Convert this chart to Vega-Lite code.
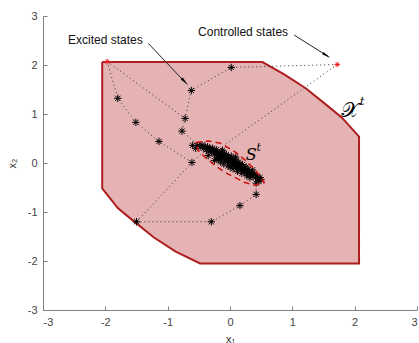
{
  "$schema": "https://vega.github.io/schema/vega-lite/v6.json",
  "width": 374,
  "height": 294,
  "autosize": {"type": "none"},
  "padding": {"left": 43, "top": 16, "right": 2, "bottom": 33},
  "background": "white",
  "config": {
    "view": {"stroke": null},
    "axis": {
      "grid": false,
      "domainColor": "#7f7f7f",
      "tickColor": "#7f7f7f",
      "labelColor": "#444444",
      "labelFont": "Liberation Sans",
      "labelFontSize": 11,
      "titleFont": "Liberation Sans",
      "titleFontWeight": "normal",
      "titleColor": "#333333",
      "titleFontSize": 11,
      "tickSize": -4,
      "labelPadding": 10,
      "labelExpr": "replace(datum.label, '−', '-')"
    }
  },
  "datasets": {
    "region": [
      {"ord": 1, "x": -2.05, "y": 2.06},
      {"ord": 2, "x": 0.52, "y": 2.06},
      {"ord": 3, "x": 0.87, "y": 1.81},
      {"ord": 4, "x": 1.22, "y": 1.52},
      {"ord": 5, "x": 1.59, "y": 1.14},
      {"ord": 6, "x": 1.80, "y": 0.92},
      {"ord": 7, "x": 2.07, "y": 0.54},
      {"ord": 8, "x": 2.07, "y": -2.05},
      {"ord": 9, "x": -0.48, "y": -2.05},
      {"ord": 10, "x": -0.87, "y": -1.81},
      {"ord": 11, "x": -1.22, "y": -1.52},
      {"ord": 12, "x": -1.59, "y": -1.14},
      {"ord": 13, "x": -1.80, "y": -0.92},
      {"ord": 14, "x": -2.05, "y": -0.52},
      {"ord": 15, "x": -2.05, "y": 2.06}
    ],
    "ellipse": [
      {"ord": 1, "x": -0.55, "y": 0.42},
      {"ord": 2, "x": -0.35, "y": 0.45},
      {"ord": 3, "x": -0.14, "y": 0.40},
      {"ord": 4, "x": 0.10, "y": 0.21},
      {"ord": 5, "x": 0.28, "y": 0.02},
      {"ord": 6, "x": 0.42, "y": -0.17},
      {"ord": 7, "x": 0.55, "y": -0.40},
      {"ord": 8, "x": 0.40, "y": -0.45},
      {"ord": 9, "x": 0.24, "y": -0.40},
      {"ord": 10, "x": 0.07, "y": -0.29},
      {"ord": 11, "x": -0.08, "y": -0.19},
      {"ord": 12, "x": -0.23, "y": -0.06},
      {"ord": 13, "x": -0.36, "y": 0.07},
      {"ord": 14, "x": -0.51, "y": 0.25},
      {"ord": 15, "x": -0.55, "y": 0.42}
    ],
    "traj": [
      {"path": "p1", "ord": 1, "x": -1.97, "y": 2.07},
      {"path": "p1", "ord": 2, "x": -1.80, "y": 1.32},
      {"path": "p1", "ord": 3, "x": -1.51, "y": 0.83},
      {"path": "p1", "ord": 4, "x": -1.14, "y": 0.44},
      {"path": "p1", "ord": 5, "x": -0.61, "y": 0.01},
      {"path": "p1", "ord": 6, "x": -0.40, "y": 0.25},
      {"path": "p2", "ord": 1, "x": -1.97, "y": 2.07},
      {"path": "p2", "ord": 2, "x": -0.72, "y": 0.91},
      {"path": "p2", "ord": 3, "x": -0.77, "y": 0.65},
      {"path": "p2", "ord": 4, "x": -0.50, "y": 0.35},
      {"path": "p3", "ord": 1, "x": 1.72, "y": 2.01},
      {"path": "p3", "ord": 2, "x": 0.02, "y": 1.95},
      {"path": "p3", "ord": 3, "x": -0.62, "y": 1.48},
      {"path": "p3", "ord": 4, "x": -0.72, "y": 0.91},
      {"path": "p4", "ord": 1, "x": 1.72, "y": 2.01},
      {"path": "p4", "ord": 2, "x": -0.10, "y": 0.36},
      {"path": "p5", "ord": 1, "x": -1.50, "y": -1.20},
      {"path": "p5", "ord": 2, "x": -0.30, "y": -1.20},
      {"path": "p5", "ord": 3, "x": 0.16, "y": -0.87},
      {"path": "p5", "ord": 4, "x": 0.42, "y": -0.64},
      {"path": "p5", "ord": 5, "x": 0.42, "y": -0.41},
      {"path": "p5", "ord": 6, "x": 0.48, "y": -0.30},
      {"path": "p6", "ord": 1, "x": -1.50, "y": -1.20},
      {"path": "p6", "ord": 2, "x": -0.61, "y": 0.01}
    ],
    "stars": [
      {"x": -1.80, "y": 1.32}, {"x": -1.51, "y": 0.83}, {"x": -1.14, "y": 0.44},
      {"x": -0.61, "y": 0.01}, {"x": -0.72, "y": 0.91}, {"x": -0.77, "y": 0.65},
      {"x": -0.62, "y": 1.48}, {"x": 0.02, "y": 1.95}, {"x": -1.50, "y": -1.20},
      {"x": -0.30, "y": -1.20}, {"x": 0.16, "y": -0.87}, {"x": 0.42, "y": -0.64},
      {"x": 0.42, "y": -0.41},
      {"x": -0.52, "y": 0.36}, {"x": -0.48, "y": 0.33}, {"x": -0.45, "y": 0.37},
      {"x": -0.42, "y": 0.30}, {"x": -0.40, "y": 0.34}, {"x": -0.38, "y": 0.27},
      {"x": -0.36, "y": 0.33}, {"x": -0.34, "y": 0.24}, {"x": -0.33, "y": 0.30},
      {"x": -0.31, "y": 0.28}, {"x": -0.29, "y": 0.22}, {"x": -0.28, "y": 0.30},
      {"x": -0.26, "y": 0.25}, {"x": -0.25, "y": 0.18}, {"x": -0.23, "y": 0.22},
      {"x": -0.22, "y": 0.27}, {"x": -0.20, "y": 0.16}, {"x": -0.19, "y": 0.21},
      {"x": -0.17, "y": 0.13}, {"x": -0.16, "y": 0.19}, {"x": -0.14, "y": 0.23},
      {"x": -0.13, "y": 0.10}, {"x": -0.12, "y": 0.16}, {"x": -0.10, "y": 0.12},
      {"x": -0.09, "y": 0.19}, {"x": -0.08, "y": 0.06}, {"x": -0.07, "y": 0.14},
      {"x": -0.05, "y": 0.09}, {"x": -0.04, "y": 0.03}, {"x": -0.03, "y": 0.12},
      {"x": -0.02, "y": 0.07}, {"x": 0.00, "y": 0.02}, {"x": 0.01, "y": 0.09},
      {"x": 0.02, "y": -0.02}, {"x": 0.03, "y": 0.05}, {"x": 0.05, "y": 0.00},
      {"x": 0.06, "y": -0.05}, {"x": 0.07, "y": 0.03}, {"x": 0.09, "y": -0.03},
      {"x": 0.10, "y": -0.08}, {"x": 0.11, "y": 0.00}, {"x": 0.13, "y": -0.06},
      {"x": 0.14, "y": -0.11}, {"x": 0.15, "y": -0.03}, {"x": 0.17, "y": -0.09},
      {"x": 0.18, "y": -0.14}, {"x": 0.20, "y": -0.08}, {"x": 0.21, "y": -0.13},
      {"x": 0.23, "y": -0.18}, {"x": 0.24, "y": -0.11}, {"x": 0.26, "y": -0.16},
      {"x": 0.28, "y": -0.21}, {"x": 0.29, "y": -0.14}, {"x": 0.31, "y": -0.19},
      {"x": 0.33, "y": -0.24}, {"x": 0.35, "y": -0.20}, {"x": 0.37, "y": -0.27},
      {"x": 0.39, "y": -0.23}, {"x": 0.41, "y": -0.29}, {"x": 0.43, "y": -0.26},
      {"x": 0.45, "y": -0.32}, {"x": 0.48, "y": -0.30}, {"x": 0.50, "y": -0.34},
      {"x": 0.46, "y": -0.37}, {"x": -0.60, "y": 0.36}, {"x": -0.55, "y": 0.30},
      {"x": -0.25, "y": 0.05}, {"x": -0.15, "y": 0.02}, {"x": 0.00, "y": -0.08},
      {"x": -0.35, "y": 0.15},
      {"x": -0.06, "y": 0.17}, {"x": 0.02, "y": 0.14}, {"x": 0.08, "y": 0.08},
      {"x": 0.14, "y": 0.02}, {"x": 0.20, "y": -0.03}, {"x": 0.26, "y": -0.08},
      {"x": -0.10, "y": -0.02}, {"x": -0.03, "y": -0.06}, {"x": 0.05, "y": -0.12},
      {"x": 0.12, "y": -0.17}, {"x": 0.19, "y": -0.21}, {"x": 0.27, "y": -0.26},
      {"x": -0.18, "y": 0.07}, {"x": -0.21, "y": 0.12}, {"x": 0.32, "y": -0.30},
      {"x": 0.36, "y": -0.14}, {"x": 0.09, "y": 0.12}, {"x": -0.12, "y": 0.26}
    ],
    "reds": [
      {"x": -1.97, "y": 2.07},
      {"x": 1.72, "y": 2.01}
    ],
    "labels": [
      {"x": -2.00, "y": 2.52, "text": "Excited states"},
      {"x": 0.21, "y": 2.67, "text": "Controlled states"}
    ],
    "arrow1": [
      {"ord": 1, "x": -1.31, "y": 2.44},
      {"ord": 2, "x": -0.70, "y": 1.62}
    ],
    "arrow2": [
      {"ord": 1, "x": 1.03, "y": 2.61},
      {"ord": 2, "x": 1.58, "y": 2.17}
    ],
    "head1": [{"x": -0.74, "y": 1.68}],
    "head2": [{"x": 1.53, "y": 2.21}],
    "bigX": [{"x": 1.93, "y": 1.07, "text": "𝒳"}],
    "bigXt": [{"x": 2.12, "y": 1.24, "text": "t"}],
    "bigS": [{"x": 0.34, "y": 0.16, "text": "S"}],
    "bigSt": [{"x": 0.46, "y": 0.31, "text": "t"}]
  },
  "encoding": {
    "x": {
      "field": "x", "type": "quantitative",
      "scale": {"domain": [-3, 3], "nice": false, "zero": false},
      "axis": {"values": [-3, -2, -1, 0, 1, 2, 3], "title": "x₁", "titlePadding": 6}
    },
    "y": {
      "field": "y", "type": "quantitative",
      "scale": {"domain": [-3, 3], "nice": false, "zero": false},
      "axis": {"values": [-3, -2, -1, 0, 1, 2, 3], "title": "x₂", "titlePadding": 10}
    }
  },
  "layer": [
    {
      "data": {"name": "region"},
      "mark": {"type": "line", "fill": "#e5b3b3", "stroke": "#ad1f1f", "strokeWidth": 2},
      "encoding": {"order": {"field": "ord"}}
    },
    {
      "data": {"name": "traj"},
      "mark": {"type": "line", "stroke": "#333333", "strokeWidth": 1, "strokeDash": [1, 3]},
      "encoding": {"order": {"field": "ord"}, "detail": {"field": "path"}}
    },
    {
      "data": {"name": "stars"},
      "mark": {"type": "point", "shape": "M-1,0L1,0M0,-1L0,1M-0.7,-0.7L0.7,0.7M-0.7,0.7L0.7,-0.7", "filled": false, "stroke": "black", "strokeWidth": 1, "size": 55, "opacity": 1}
    },
    {
      "data": {"name": "ellipse"},
      "mark": {"type": "line", "stroke": "#cc1111", "strokeWidth": 1.5, "strokeDash": [6, 4]},
      "encoding": {"order": {"field": "ord"}}
    },
    {
      "data": {"name": "reds"},
      "mark": {"type": "point", "shape": "M-1,0L1,0M0,-1L0,1M-0.7,-0.7L0.7,0.7M-0.7,0.7L0.7,-0.7", "filled": false, "stroke": "#ee2222", "strokeWidth": 1, "size": 30, "opacity": 1}
    },
    {
      "data": {"name": "labels"},
      "mark": {"type": "text", "font": "Liberation Sans", "fontSize": 12, "color": "#111111"},
      "encoding": {"text": {"field": "text"}}
    },
    {
      "data": {"name": "arrow1"},
      "mark": {"type": "line", "stroke": "#222222", "strokeWidth": 1},
      "encoding": {"order": {"field": "ord"}}
    },
    {
      "data": {"name": "arrow2"},
      "mark": {"type": "line", "stroke": "#222222", "strokeWidth": 1},
      "encoding": {"order": {"field": "ord"}}
    },
    {
      "data": {"name": "head1"},
      "mark": {"type": "point", "shape": "wedge", "filled": true, "fill": "black", "size": 110, "angle": 136, "opacity": 1}
    },
    {
      "data": {"name": "head2"},
      "mark": {"type": "point", "shape": "wedge", "filled": true, "fill": "black", "size": 110, "angle": 123, "opacity": 1}
    },
    {
      "data": {"name": "bigX"},
      "mark": {"type": "text", "font": "DejaVu Serif", "fontSize": 21, "color": "black"},
      "encoding": {"text": {"field": "text"}}
    },
    {
      "data": {"name": "bigXt"},
      "mark": {"type": "text", "font": "DejaVu Serif", "fontSize": 11, "fontStyle": "italic", "color": "black"},
      "encoding": {"text": {"field": "text"}}
    },
    {
      "data": {"name": "bigS"},
      "mark": {"type": "text", "font": "DejaVu Serif", "fontSize": 16, "fontStyle": "italic", "color": "black"},
      "encoding": {"text": {"field": "text"}}
    },
    {
      "data": {"name": "bigSt"},
      "mark": {"type": "text", "font": "DejaVu Serif", "fontSize": 11, "fontStyle": "italic", "color": "black"},
      "encoding": {"text": {"field": "text"}}
    }
  ]
}
